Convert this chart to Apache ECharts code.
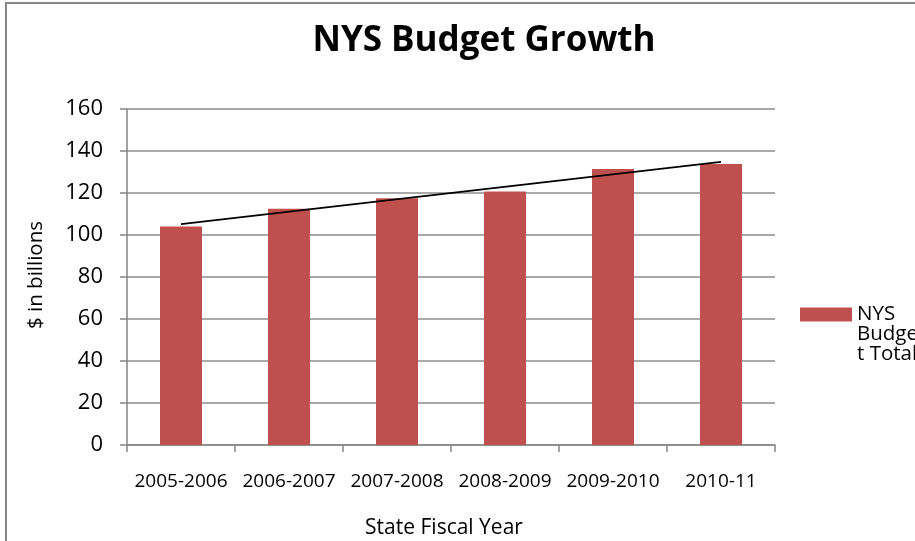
<!DOCTYPE html>
<html>
<head>
<meta charset="utf-8">
<script src="https://cdn.jsdelivr.net/npm/echarts@6/dist/echarts.min.js"></script>
<style>
html,body{margin:0;padding:0;background:#fff;}
#chart{width:915px;height:541px;}
</style>
</head>
<body>
<div id="chart"></div>
<script>
const categories = ['2005-2006', '2006-2007', '2007-2008', '2008-2009', '2009-2010', '2010-11'];
const budgetTotals = [104, 112.5, 117.5, 120.7, 131.4, 133.8];
const trendValues = [105.2, null, null, null, null, 134.8];
const seriesName = 'NYS Budget Total';
const titleText = 'NYS Budget Growth';
const xAxisTitle = 'State Fiscal Year';
const yAxisTitle = '$ in billions';

const FONT = '"Open Sans", "Liberation Sans", sans-serif';
const chart = echarts.init(document.getElementById('chart'), null, {renderer: 'canvas'});
chart.setOption({
  animation: false,
  backgroundColor: '#fff',
  grid: {left: 127, right: 140, top: 109, bottom: 96, containLabel: false},
  graphic: [
    {type: 'rect', shape: {x: 6, y: 3, width: 1200, height: 1000}, style: {fill: 'none', stroke: '#868686', lineWidth: 2}, silent: true, z: -1},
    {type: 'text', x: 484, y: 41, style: {text: titleText, font: 'bold 35px ' + FONT, fill: '#000', textAlign: 'center', textVerticalAlign: 'middle'}},
    {type: 'text', x: 444, y: 528, style: {text: xAxisTitle, font: '21px ' + FONT, fill: '#000', textAlign: 'center', textVerticalAlign: 'middle'}},
    {type: 'text', x: 36, y: 275, rotation: Math.PI / 2, style: {text: yAxisTitle, font: '20.5px ' + FONT, fill: '#000', textAlign: 'center', textVerticalAlign: 'middle'}}
  ],
  legend: {
    show: true,
    left: 795,
    top: 259,
    itemWidth: 52,
    itemHeight: 14,
    itemGap: 6,
    icon: 'rect',
    data: [seriesName],
    formatter: function () { return '{a|NYS\nBudge\nt Total}'; },
    textStyle: {
      rich: {a: {fontFamily: FONT, fontSize: 20.5, lineHeight: 20, color: '#000', padding: [40, 0, 0, 0]}}
    }
  },
  xAxis: {
    type: 'category',
    data: categories,
    boundaryGap: true,
    axisLine: {show: true, lineStyle: {color: '#868686', width: 1.5}},
    axisTick: {show: true, length: 7, alignWithLabel: false, lineStyle: {color: '#868686', width: 1.5}},
    axisLabel: {color: '#000', fontFamily: FONT, fontSize: 19, margin: 27, interval: 0}
  },
  yAxis: {
    type: 'value',
    min: 0,
    max: 160,
    interval: 20,
    axisLine: {show: true, lineStyle: {color: '#868686', width: 1.5}},
    axisTick: {show: true, length: 7, lineStyle: {color: '#868686', width: 1.5}},
    axisLabel: {color: '#000', fontFamily: FONT, fontSize: 22, margin: 24},
    splitLine: {show: true, lineStyle: {color: '#8c8c8c', width: 1.5}}
  },
  series: [
    {
      name: seriesName,
      type: 'bar',
      data: budgetTotals,
      barWidth: 42,
      itemStyle: {color: '#C0504D'}
    },
    {
      name: 'trend',
      type: 'line',
      data: trendValues,
      connectNulls: true,
      symbol: 'none',
      lineStyle: {color: '#000', width: 1.8},
      z: 5
    }
  ]
});
</script>
</body>
</html>
